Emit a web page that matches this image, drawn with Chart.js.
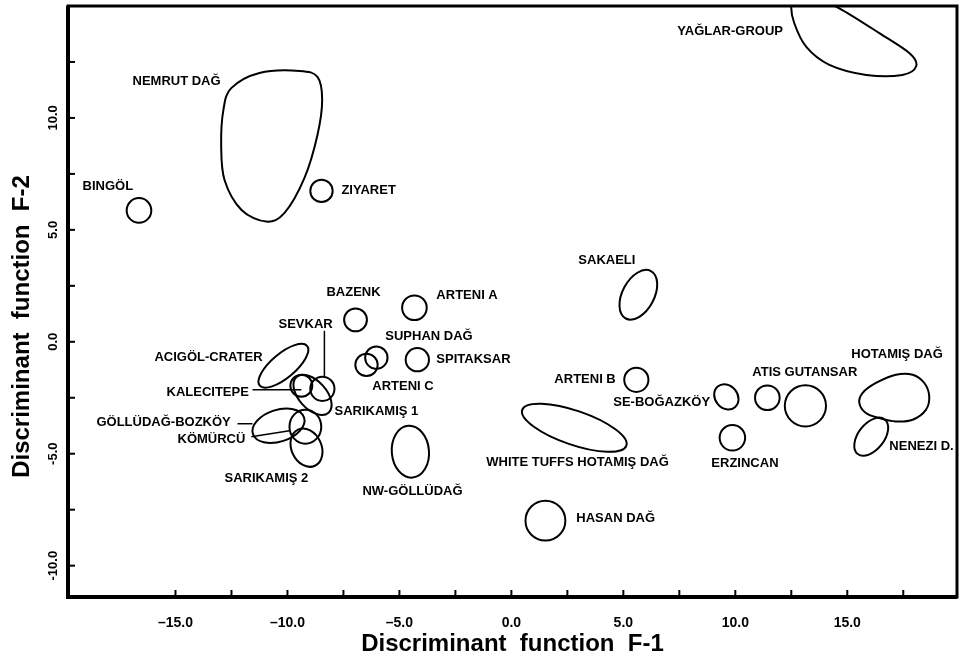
<!DOCTYPE html>
<html>
<head>
<meta charset="utf-8">
<title>Discriminant function F-1 / F-2</title>
<script src="https://cdn.jsdelivr.net/npm/chart.js@4.4.1/dist/chart.umd.min.js"></script>
<style>
  html, body { margin: 0; padding: 0; background: #fff; }
  #chart { display: block; }
</style>
</head>
<body>
<canvas id="chart" width="967" height="662"></canvas>
<script>
// axis ranges and tick labels
const xRange = [-19.8, 19.9];
const yRange = [-11.4, 15.0];
const xTickLabels = [-15, -10, -5, 0, 5, 10, 15];
const yTickLabels = [-10, -5, 0, 5, 10];

// groups drawn as ellipses: centre, semi-axes (data units), tilt in degrees
const groupNames = ['Bingöl', 'Ziyaret', 'Sakaeli', 'Bazenk', 'Arteni A', 'Suphan Dağ', 'Arteni C',
  'Spitaksar', 'NW-Göllüdağ', 'Arteni B', 'White tuffs Hotamış Dağ', 'Hasan Dağ', 'SE-Boğazköy',
  'Atis Gutansar a', 'Atis Gutansar b', 'Erzincan', 'Nenezi D.', 'Acıgöl-Crater', 'Kalecitepe',
  'Sevkar', 'Sarıkamış 1', 'Göllüdağ-Bozköy', 'Kömürcü', 'Sarıkamış 2'];
const centerX = [-16.63, -8.48, 5.67, -6.96, -4.33, -6.03, -6.47,
  -4.20, -4.51, 5.58, 2.81, 1.52, 9.60,
  11.43, 13.13, 9.87, 16.07, -10.18, -9.38,
  -8.44, -8.88, -10.40, -9.20, -9.15];
const centerY = [5.87, 6.74, 2.10, 0.98, 1.52, -0.71, -1.03,
  -0.80, -4.91, -1.70, -3.84, -7.99, -2.46,
  -2.50, -2.86, -4.29, -4.24, -1.07, -1.96,
  -2.10, -2.37, -3.75, -3.79, -4.73];
const radiusX = [0.55, 0.50, 1.20, 0.51, 0.55, 0.50, 0.50,
  0.52, 0.83, 0.54, 2.46, 0.89, 0.60,
  0.55, 0.92, 0.57, 0.98, 1.38, 0.49,
  0.54, 1.07, 1.20, 0.71, 0.89];
const radiusY = [0.55, 0.50, 0.71, 0.51, 0.55, 0.50, 0.50,
  0.52, 1.16, 0.54, 0.76, 0.89, 0.50,
  0.55, 0.92, 0.57, 0.58, 0.54, 0.49,
  0.54, 0.62, 0.71, 0.76, 0.67];
const tiltDeg = [0, 0, 62, 0, 0, 0, 0,
  0, 5, 0, -19, 0, -50,
  0, 0, 0, 52, 40, 0,
  0, -48, 18, 0, -65];

// irregular group outlines (data units)
const nemrutX = [-12.51, -11.25, -9.46, -8.66, -8.45, -8.66, -9.24, -10.13, -10.95, -12.05, -12.81, -12.96, -12.86];
const nemrutY = [11.33, 12.01, 12.10, 11.83, 10.80, 9.24, 7.32, 5.76, 5.37, 5.89, 7.23, 8.79, 10.36];
const hotamisX = [15.54, 15.68, 16.28, 17.17, 17.92, 18.44, 18.66, 18.51, 17.92, 17.17, 16.43, 15.83];
const hotamisY = [-2.74, -2.29, -1.84, -1.47, -1.47, -1.84, -2.44, -3.04, -3.48, -3.56, -3.41, -3.18];
const yaglarX = [12.50, 12.63, 13.17, 14.20, 15.85, 17.46, 18.08, 17.77, 16.43, 14.78, 13.53, 12.72];
const yaglarY = [15.04, 14.24, 13.17, 12.37, 11.92, 11.92, 12.32, 12.90, 13.79, 14.82, 15.40, 15.49];

// group labels (left edge, vertical middle, data units)
const labelText = ['NEMRUT DAĞ', 'BINGÖL', 'ZIYARET', 'YAĞLAR-GROUP', 'SAKAELI', 'BAZENK', 'ARTENI A',
  'SUPHAN DAĞ', 'SPITAKSAR', 'ARTENI C', 'SARIKAMIŞ 1', 'NW-GÖLLÜDAĞ', 'ARTENI B', 'SE-BOĞAZKÖY',
  'WHITE TUFFS HOTAMIŞ DAĞ', 'HASAN DAĞ', 'ATIS GUTANSAR', 'HOTAMIŞ DAĞ', 'ERZINCAN', 'NENEZI D.',
  'ACIGÖL-CRATER', 'KALECITEPE', 'GÖLLÜDAĞ-BOZKÖY', 'KÖMÜRCÜ', 'SARIKAMIŞ 2', 'SEVKAR'];
const labelX = [-16.92, -19.15, -7.59, 7.41, 2.99, -8.26, -3.35,
  -5.63, -3.35, -6.21, -7.90, -6.65, 1.92, 4.55,
  -1.12, 2.90, 10.76, 15.18, 8.93, 16.88,
  -15.94, -15.40, -18.53, -14.91, -12.81, -10.40];
const labelY = [11.61, 6.92, 6.74, 13.88, 3.62, 2.19, 2.05,
  0.22, -0.80, -2.01, -3.13, -6.70, -1.70, -2.72,
  -5.40, -7.90, -1.38, -0.58, -5.45, -4.69,
  -0.71, -2.28, -3.62, -4.38, -6.12, 0.76];

// leader lines from labels to their outlines
const leaderX1 = [-11.56, -8.35, -12.23, -11.61];
const leaderY1 = [-2.14, 0.49, -3.66, -4.24];
const leaderX2 = [-9.38, -8.35, -11.56, -9.91];
const leaderY2 = [-2.14, -1.56, -3.66, -3.97];

const FONT = '"Liberation Sans", Arial, Helvetica, sans-serif';

function fmtX(v) {
  return (v < 0 ? '\u2013' : '') + Math.abs(v).toFixed(1);
}

function onStep(v, step) {
  return Math.abs(v / step - Math.round(v / step)) < 1e-6;
}

// smooth closed curve through outline points (catmull-rom -> bezier)
function closedCurve(ctx, pts) {
  const n = pts.length;
  ctx.beginPath();
  ctx.moveTo(pts[0][0], pts[0][1]);
  for (let i = 0; i < n; i++) {
    const p0 = pts[(i - 1 + n) % n], p1 = pts[i], p2 = pts[(i + 1) % n], p3 = pts[(i + 2) % n];
    ctx.bezierCurveTo(
      p1[0] + (p2[0] - p0[0]) / 6, p1[1] + (p2[1] - p0[1]) / 6,
      p2[0] - (p3[0] - p1[0]) / 6, p2[1] - (p3[1] - p1[1]) / 6,
      p2[0], p2[1]);
  }
  ctx.closePath();
  ctx.stroke();
}

const figurePlugin = {
  id: 'figure',
  beforeDraw(chart) {
    const ctx = chart.ctx;
    ctx.save();
    ctx.fillStyle = '#fff';
    ctx.fillRect(0, 0, chart.width, chart.height);
    ctx.restore();
  },
  afterDatasetsDraw(chart) {
    const { ctx, chartArea: a, scales: { x, y } } = chart;
    const sx = x.getPixelForValue(1) - x.getPixelForValue(0);
    const sy = y.getPixelForValue(0) - y.getPixelForValue(1);

    ctx.save();
    ctx.beginPath();
    ctx.rect(a.left, a.top, a.right - a.left, a.bottom - a.top);
    ctx.clip();
    ctx.strokeStyle = '#000';
    ctx.lineWidth = 2;
    ctx.lineJoin = 'round';

    groupNames.forEach((name, i) => {
      ctx.save();
      ctx.translate(x.getPixelForValue(centerX[i]), y.getPixelForValue(centerY[i]));
      ctx.scale(sx, -sy);
      ctx.rotate(tiltDeg[i] * Math.PI / 180);
      ctx.beginPath();
      ctx.ellipse(0, 0, radiusX[i], radiusY[i], 0, 0, 2 * Math.PI);
      ctx.restore();
      ctx.stroke();
    });

    [[nemrutX, nemrutY], [hotamisX, hotamisY], [yaglarX, yaglarY]].forEach(([xs, ys]) => {
      closedCurve(ctx, xs.map((v, i) => [x.getPixelForValue(v), y.getPixelForValue(ys[i])]));
    });

    ctx.lineWidth = 1.5;
    leaderX1.forEach((v, i) => {
      ctx.beginPath();
      ctx.moveTo(x.getPixelForValue(v), y.getPixelForValue(leaderY1[i]));
      ctx.lineTo(x.getPixelForValue(leaderX2[i]), y.getPixelForValue(leaderY2[i]));
      ctx.stroke();
    });
    ctx.restore();

    ctx.save();
    ctx.fillStyle = '#000';
    ctx.font = 'bold 13px ' + FONT;
    ctx.textAlign = 'left';
    ctx.textBaseline = 'middle';
    labelText.forEach((t, i) => {
      ctx.fillText(t, x.getPixelForValue(labelX[i]), y.getPixelForValue(labelY[i]));
    });
    ctx.restore();
  },
  afterDraw(chart) {
    const { ctx, chartArea: a, scales: { x, y } } = chart;
    ctx.save();
    ctx.strokeStyle = '#000';

    // frame, heavier on the left and bottom
    ctx.lineWidth = 3;
    ctx.strokeRect(a.left, a.top, a.right - a.left, a.bottom - a.top);
    ctx.lineWidth = 4;
    ctx.beginPath();
    ctx.moveTo(a.left, a.top);
    ctx.lineTo(a.left, a.bottom);
    ctx.lineTo(a.right, a.bottom);
    ctx.stroke();

    // inward tick marks every 2.5
    ctx.lineWidth = 2;
    x.ticks.forEach(t => {
      if (!onStep(t.value, 2.5)) return;
      const px = x.getPixelForValue(t.value);
      ctx.beginPath();
      ctx.moveTo(px, a.bottom);
      ctx.lineTo(px, a.bottom - 7);
      ctx.stroke();
    });
    y.ticks.forEach(t => {
      if (!onStep(t.value, 2.5)) return;
      const py = y.getPixelForValue(t.value);
      ctx.beginPath();
      ctx.moveTo(a.left, py);
      ctx.lineTo(a.left + 7, py);
      ctx.stroke();
    });

    // rotated y tick labels
    ctx.fillStyle = '#000';
    ctx.font = 'bold 13px ' + FONT;
    ctx.textAlign = 'center';
    ctx.textBaseline = 'middle';
    yTickLabels.forEach(v => {
      ctx.save();
      ctx.translate(a.left - 15, y.getPixelForValue(v));
      ctx.rotate(-Math.PI / 2);
      ctx.fillText(v.toFixed(1), 0, 0);
      ctx.restore();
    });

    // y axis title
    ctx.font = 'bold 24px ' + FONT;
    ctx.save();
    ctx.translate(22, (a.top + a.bottom) / 2 + 25);
    ctx.rotate(-Math.PI / 2);
    ctx.fillText('Discriminant  function  F-2', 0, 0);
    ctx.restore();
    ctx.restore();
  }
};

new Chart(document.getElementById('chart'), {
  type: 'scatter',
  data: {
    datasets: [{
      label: 'group centres',
      data: centerX.map((v, i) => ({ x: v, y: centerY[i] })),
      pointRadius: 0,
      showLine: false
    }]
  },
  options: {
    responsive: false,
    animation: false,
    devicePixelRatio: 1,
    layout: { padding: { top: 6, right: 9, left: 0, bottom: 0 } },
    plugins: {
      legend: { display: false },
      tooltip: { enabled: false }
    },
    scales: {
      x: {
        type: 'linear',
        position: 'bottom',
        min: xRange[0],
        max: xRange[1],
        afterFit: s => { s.height = 65; },
        grid: { display: false },
        border: { display: false },
        ticks: {
          stepSize: 2.5,
          autoSkip: false,
          maxRotation: 0,
          padding: 10,
          color: '#000',
          font: { family: FONT, size: 14, weight: 'bold' },
          callback: v => xTickLabels.includes(v) ? fmtX(v) : ''
        },
        title: {
          display: true,
          text: 'Discriminant  function  F-1',
          color: '#000',
          font: { family: FONT, size: 24, weight: 'bold' },
          padding: { top: 0, bottom: 3 }
        }
      },
      y: {
        type: 'linear',
        min: yRange[0],
        max: yRange[1],
        afterFit: s => { s.width = 68; },
        grid: { display: false },
        border: { display: false },
        ticks: { display: false, stepSize: 2.5 },
        title: { display: false }
      }
    }
  },
  plugins: [figurePlugin]
});
</script>
</body>
</html>
